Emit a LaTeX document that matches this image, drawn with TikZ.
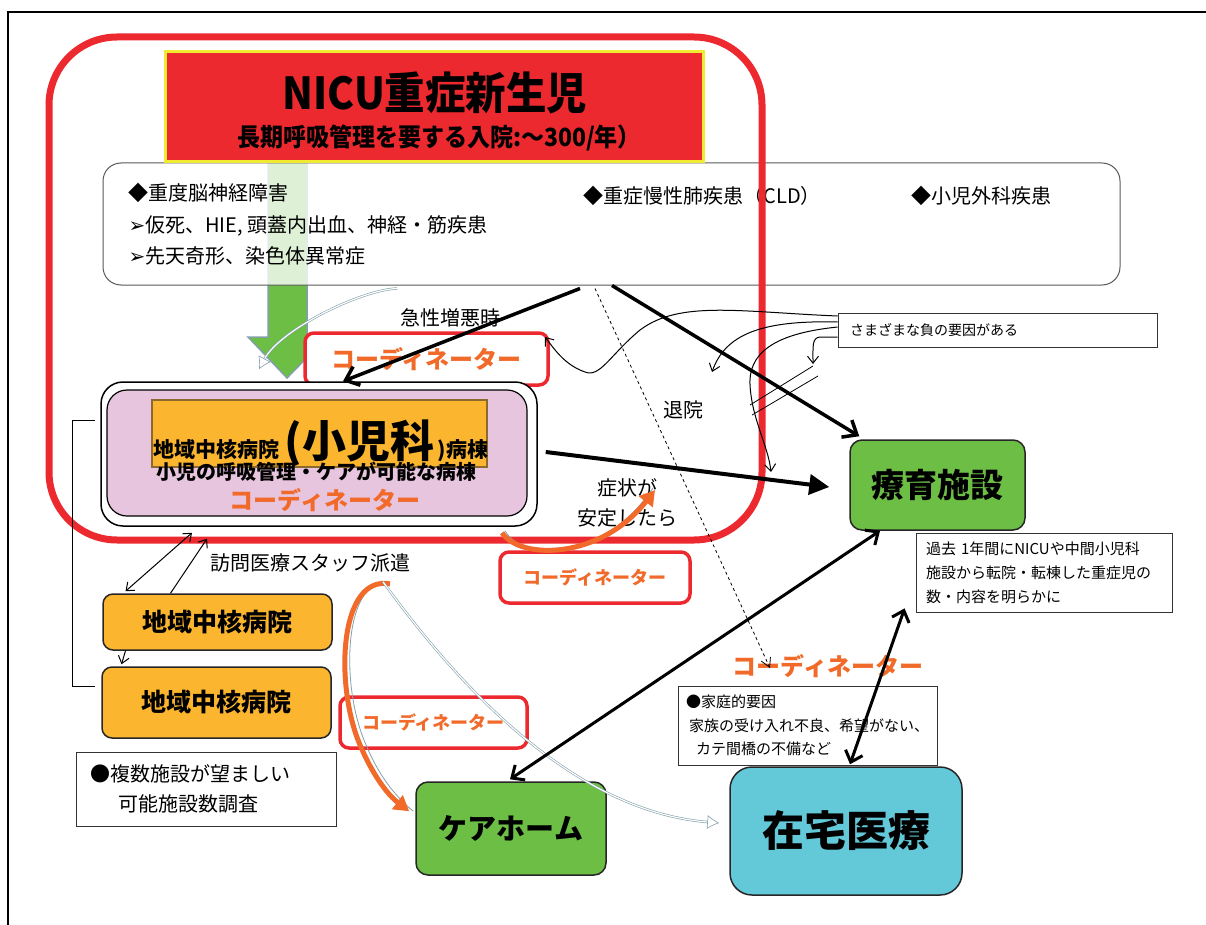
\documentclass[tikz,border=0pt]{standalone}
\usepackage{fontspec}
\newfontfamily\jp{Noto Sans CJK JP}
\newfontfamily\sym{DejaVu Sans}
\usetikzlibrary{arrows.meta,positioning,calc}

\definecolor{alarmred}{RGB}{237,41,48}
\definecolor{titleyellow}{RGB}{240,235,50}
\definecolor{coordorange}{RGB}{241,106,41}
\definecolor{leafgreen}{RGB}{108,190,69}
\definecolor{wardpink}{RGB}{232,197,222}
\definecolor{amber}{RGB}{251,181,47}
\definecolor{wardbrown}{RGB}{140,105,45}
\definecolor{homecyan}{RGB}{99,200,216}
\definecolor{slateblue}{RGB}{130,160,170}

\tikzset{
  every node/.style={font=\jp},
  plain/.style={font=\jp\fontsize{20}{30}\selectfont},
  listtext/.style={anchor=west, font=\jp\fontsize{20}{24}\selectfont},
  coordtext/.style={text=coordorange, font=\jp\bfseries\fontsize{24}{24}\selectfont},
  coordbox/.style={draw=alarmred, line width=3.5pt, rounded corners=9pt, fill=white,
    text=coordorange, font=\jp\bfseries\fontsize{18}{18}\selectfont},
  hospbox/.style={draw=black!85, line width=1.5pt, rounded corners=10pt, fill=amber,
    font=\jp\bfseries\fontsize{25}{25}\selectfont},
  placebox/.style={draw=black!85, line width=1.5pt, rounded corners=12pt},
  notebox/.style={draw=black!80, line width=0.8pt, fill=white, align=left},
  heavy/.style={line width=3.5pt, -{Straight Barb[length=12pt,width=20pt]}},
  heavyboth/.style={line width=3pt, {Straight Barb[length=10pt,width=18pt]}-{Straight Barb[length=10pt,width=18pt]}},
  slim/.style={line width=1pt, -{Straight Barb[length=7pt,width=11pt]}},
  slimboth/.style={line width=1pt, {Straight Barb[length=7pt,width=11pt]}-{Straight Barb[length=7pt,width=11pt]}},
  hollow/.style={draw=slateblue, double=white, double distance=1.2pt, line width=0.6pt,
    -{Latex[open,length=12pt,width=14pt]}},
  swoosh/.style={draw=coordorange, line width=5pt, -{Triangle[length=15pt,width=17pt]}},
  swooshedge/.style={draw=slateblue, line width=0.8pt}
}

\begin{document}
\begin{tikzpicture}[x=1pt, y=-1pt]
\useasboundingbox (0,0) rectangle (1206,925);
\draw[line width=1.5pt] (8,925) -- (8,12) -- (1206,12);

\draw[fill=leafgreen, draw=slateblue, line width=1.5pt]
  (268,150) -- (307,150) -- (307,337) -- (327,337) -- (287,378) -- (248,337) -- (268,337) -- cycle;

\node[draw=black!65, line width=1pt, fill=white, fill opacity=0.78, rounded corners=18pt,
  minimum width=1017, minimum height=122] (disease) at (611.5,224) {};
\node[listtext] (brain) at (125,193) {◆重度脳神経障害};
\node[listtext] (asphyxia) at (125,226) {{\sym ➢}仮死、HIE, 頭蓋内出血、神経・筋疾患};
\node[listtext] (anomaly) at (125,256) {{\sym ➢}先天奇形、染色体異常症};
\node[listtext] (lung) at (580,196) {◆重症慢性肺疾患（CLD）};
\node[listtext] (surgery) at (908,196) {◆小児外科疾患};

\draw[alarmred, line width=7pt, rounded corners=68pt] (49,37) rectangle (762,540);

\node[draw=titleyellow, fill=alarmred, line width=3pt, minimum width=538, minimum height=110] (nicu) at (434,107) {};
\node[font=\jp\bfseries\fontsize{44}{44}\selectfont] (nicutitle) at (435,93) {\scalebox{0.92}[1]{NICU重症新生児}};
\node[font=\jp\bfseries\fontsize{25}{25}\selectfont] (nicusub) at (439,138) {\scalebox{0.92}[1]{長期呼吸管理を要する入院:～300/年）}};

\node[plain] (acute) at (450,318) {急性増悪時};
\node[coordbox, minimum width=243, minimum height=52, font=\jp\bfseries\fontsize{24}{24}\selectfont] (coordA) at (426.5,359) {コーディネーター};

\node[draw, line width=1.5pt, fill=white, rounded corners=22pt, minimum width=436, minimum height=144] (wardout) at (319,454) {};
\node[draw, line width=1.2pt, fill=wardpink, rounded corners=20pt, minimum width=420, minimum height=126] (ward) at (317,453) {};
\node[draw=wardbrown, line width=2pt, fill=amber, minimum width=335, minimum height=67] (wardtitle) at (319.5,433.5) {};
\node[anchor=base, font=\jp\bfseries\fontsize{21}{21}\selectfont] (wardname) at (321,457)
  {地域中核病院 {\fontsize{44}{44}\selectfont(小児科}\,)病棟};
\node[font=\jp\bfseries\fontsize{20}{20}\selectfont] (wardcare) at (316,472) {小児の呼吸管理・ケアが可能な病棟};
\node[coordtext] (wardcoord) at (325,500) {コーディネーター};

\draw[line width=0.8pt] (95,420) -- (72,420) -- (72,686) -- (95,686);

\node[hospbox, minimum width=229, minimum height=56] (hospA) at (217.5,622) {地域中核病院};
\node[hospbox, minimum width=229, minimum height=71] (hospB) at (216.5,702.5) {地域中核病院};
\node[notebox, font=\jp\fontsize{20}{30}\selectfont, text width=232, inner xsep=14, minimum height=74] (survey) at (206,789)
  {●複数施設が望ましい\\\hspace*{28pt}可能施設数調査};

\node[plain] (visit) at (310,563) {訪問医療スタッフ派遣};
\node[coordbox, minimum width=190, minimum height=51] (coordB) at (595,577.5) {コーディネーター};
\node[coordbox, minimum width=187, minimum height=51] (coordC) at (433.5,722.5) {コーディネーター};

\node[plain] (discharge) at (683,410) {退院};
\node[plain, align=center] (stable) at (627,503) {症状が\\安定したら};

\node[notebox, font=\jp\fontsize{14}{18}\selectfont, text width=295, inner xsep=12, minimum height=34] (negative) at (997.5,330)
  {さまざまな負の要因がある};
\node[placebox, fill=leafgreen, minimum width=175, minimum height=90, font=\jp\bfseries\fontsize{33}{33}\selectfont] (ryoiku) at (937.5,485) {療育施設};
\node[notebox, font=\jp\fontsize{15}{24}\selectfont, text width=236, inner xsep=10, minimum height=79] (past) at (1044,572.5)
  {過去 1年間にNICUや中間小児科\\施設から転院・転棟した重症児の\\数・内容を明らかに};
\node[coordtext] (coordD) at (828,666) {コーディネーター};
\node[notebox, font=\jp\fontsize{15}{23.5}\selectfont, text width=243, inner xsep=8, minimum height=79] (family) at (807.5,725.5)
  {●家庭的要因\\\hspace*{3pt}家族の受け入れ不良、希望がない、\\\hspace*{10pt}カテ間橋の不備など};
\node[placebox, fill=leafgreen, minimum width=190, minimum height=93, font=\jp\bfseries\fontsize{29}{29}\selectfont] (carehome) at (511,828.5) {ケアホーム};
\node[placebox, fill=homecyan, rounded corners=22pt, minimum width=232, minimum height=128, font=\jp\bfseries\fontsize{42}{42}\selectfont] (zaitaku) at (846,831) {在宅医療};

\coordinate (dashend) at (770,668);

\draw[hollow] ([xshift=-214.5pt,yshift=-3pt]disease.south) .. controls (360,290) and (280,330) .. ([xshift=-60pt,yshift=12pt]wardout.north);
\draw[heavy] ([xshift=-31.5pt,yshift=-3pt]disease.south) -- ([xshift=24pt]wardout.north);
\draw[heavy] ([xshift=0.5pt]disease.south) -- ([xshift=10pt,yshift=3pt]ryoiku.north west);
\draw[dashed, line width=0.8pt, -{Straight Barb[length=9pt,width=10pt]}] ([xshift=-16.5pt,yshift=-3pt]disease.south) -- (dashend);
\draw[line width=4pt, -{Triangle[length=20pt,width=20pt]}] ([xshift=8pt,yshift=2pt]wardout.east) -- ([xshift=-20pt,yshift=-2pt]ryoiku.west);

\draw[slim] ([yshift=14pt]negative.west) .. controls (740,312) and (680,300) .. (640,330)
  .. controls (610,355) and (600,378) .. (585,372) .. controls (565,365) and (555,350) .. (545,337);
\draw[slim] ([yshift=8pt]negative.west) .. controls (760,320) and (725,335) .. (712,372);
\draw[slim] ([yshift=3pt]negative.west) .. controls (790,332) and (748,345) .. (750,385)
  .. controls (752,420) and (768,445) .. (771,472);
\draw[slim] ([yshift=-7pt]negative.west) -- (820,337) .. controls (812,338) and (813,345) .. (813,364);
\draw[line width=0.8pt] (750,405) -- (813,366);
\draw[line width=0.8pt] (752,415) -- (818,376);

\draw[swooshedge] ([xshift=186pt,yshift=-4pt]wardout.south) .. controls (523,562) and (603,562) .. ([xshift=26pt,yshift=15pt]stable.center);
\draw[swoosh] ([xshift=183pt,yshift=-6pt]wardout.south) .. controls (520,560) and (600,560) .. ([xshift=28pt,yshift=13pt]stable.center);

\draw[swooshedge] ([xshift=78pt,yshift=-6pt]visit.south) .. controls (345,580) and (340,680) .. (364,740) .. controls (378,775) and (394,795) .. ([xshift=-2pt,yshift=-30pt]carehome.north west);
\draw[swoosh] ([xshift=80pt,yshift=-8pt]visit.south) .. controls (340,575) and (335,680) .. (358,740) .. controls (372,775) and (388,795) .. ([xshift=-6pt,yshift=-30pt]carehome.north west);
\draw[hollow] ([xshift=73pt,yshift=-6pt]visit.south) .. controls (440,660) and (560,810) .. ([xshift=-10pt,yshift=8pt]zaitaku.west);

\draw[slimboth] ([xshift=-92pt,yshift=2pt]hospA.north) -- ([xshift=-127pt,yshift=-6pt]wardout.south);
\draw[slim] ([xshift=-47pt]hospA.north) -- ([xshift=-112pt,yshift=-12pt]wardout.south);
\draw[slim] ([xshift=-92pt]hospA.south) -- ([xshift=-95pt,yshift=2pt]hospB.north);

\draw[heavyboth] ([xshift=-1pt,yshift=2pt]carehome.north) -- ([xshift=-57.5pt]ryoiku.south);
\draw[heavyboth] ([xshift=4pt,yshift=2pt]zaitaku.north) -- ([xshift=-11pt,yshift=4pt]past.south west);
\end{tikzpicture}
\end{document}
